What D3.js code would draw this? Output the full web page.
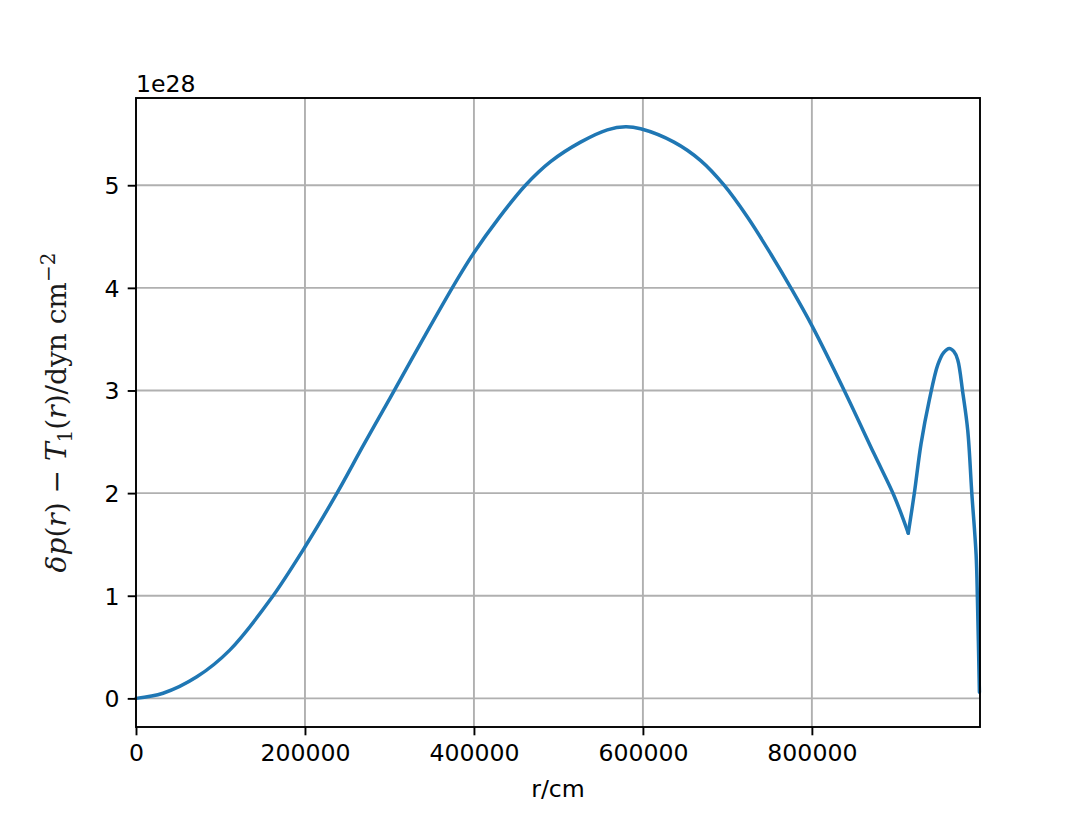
<!DOCTYPE html>
<meta charset="utf-8">

<!-- Load d3.js -->
<script src="https://d3js.org/d3.v7.min.js"></script>

<body>
  <div id="my_dataviz"></div>
</body>

<style>
body {
  margin: 0;
  padding: 0;
  background: white;
}
.tick text {
  font-family: 'DejaVu Sans', sans-serif;
  font-size: 23.6px;
  fill: black;
}
</style>

<script>

// radius in cm, value in units of 1e28 dyn cm^-2
// inner part, up to the kink
var rInner = [0, 32000, 72000, 111000, 158800, 200300, 237900, 269400, 301000,
  341000, 380100, 399800, 429400, 461000, 490700, 526200, 557900, 579600,
  597300, 636800, 668400, 696100, 723700, 751400, 775100, 800800, 838300,
  873800, 897500, 914100];
var vInner = [0, 0.05, 0.21, 0.47, 0.96, 1.48, 2.0, 2.47, 2.93,
  3.52, 4.08, 4.34, 4.68, 5.0, 5.23, 5.42, 5.54, 5.57,
  5.55, 5.42, 5.24, 5.0, 4.69, 4.33, 4.0, 3.62, 3.0,
  2.38, 1.97, 1.61];

// outer part, from the kink to the surface
var rOuter = [914100, 921300, 929200, 939100, 949000, 956000, 962700, 968000,
  972600, 978600, 984500, 989300, 994400, 996000, 998300];
var vOuter = [1.61, 2.0, 2.48, 2.91, 3.25, 3.37, 3.41, 3.38,
  3.30, 2.98, 2.61, 2.0, 1.4, 0.95, 0.06];

var xTicks = [0, 200000, 400000, 600000, 800000];
var yTicks = [0, 1, 2, 3, 4, 5];

// set the dimensions and margins of the graph
var margin = {top: 98, right: 109, bottom: 90, left: 136},
    width = 1089 - margin.left - margin.right,
    height = 817 - margin.top - margin.bottom;

var tickLen = 8.3, tickPad = 8.3;

var svg = d3.select("#my_dataviz")
  .append("svg")
    .attr("width", 1089)
    .attr("height", 817)
  .append("g")
    .attr("transform", "translate(" + margin.left + "," + margin.top + ")");

var x = d3.scaleLinear()
  .domain([0, 999000])
  .range([0, width]);

var y = d3.scaleLinear()
  .domain([-0.279, 5.85])
  .range([height, 0]);

// grid lines
svg.append("g")
  .selectAll("line")
  .data(xTicks)
  .enter()
  .append("line")
    .attr("x1", function(d) { return x(d); })
    .attr("x2", function(d) { return x(d); })
    .attr("y1", 0)
    .attr("y2", height)
    .attr("stroke", "#b0b0b0")
    .attr("stroke-width", 1.9);

svg.append("g")
  .selectAll("line")
  .data(yTicks)
  .enter()
  .append("line")
    .attr("x1", 0)
    .attr("x2", width)
    .attr("y1", function(d) { return y(d); })
    .attr("y2", function(d) { return y(d); })
    .attr("stroke", "#b0b0b0")
    .attr("stroke-width", 1.9);

// the curve, drawn in two pieces so the kink stays sharp
var line = d3.line()
  .x(function(d) { return x(d[0]); })
  .y(function(d) { return y(d[1]); })
  .curve(d3.curveCatmullRom.alpha(0.5));

[[rInner, vInner], [rOuter, vOuter]].forEach(function(part) {
  var pts = part[0].map(function(r, i) { return [r, part[1][i]]; });
  svg.append("path")
    .datum(pts)
    .attr("d", line)
    .attr("fill", "none")
    .attr("stroke", "#1f77b4")
    .attr("stroke-width", 3.5)
    .attr("stroke-linecap", "round")
    .attr("stroke-linejoin", "round");
});

// axes
var xAxis = svg.append("g")
  .attr("transform", "translate(0," + height + ")")
  .call(d3.axisBottom(x).tickValues(xTicks).tickSize(tickLen).tickPadding(tickPad).tickFormat(d3.format("d")));

var yAxis = svg.append("g")
  .call(d3.axisLeft(y).tickValues(yTicks).tickSize(tickLen).tickPadding(tickPad).tickFormat(d3.format("d")));

[xAxis, yAxis].forEach(function(a) {
  a.select(".domain").remove();
  a.selectAll(".tick line").attr("stroke", "black").attr("stroke-width", 1.9);
});
xAxis.selectAll(".tick text").attr("dy", "0.74em");
yAxis.selectAll(".tick text").attr("dy", "0.36em");

// frame
svg.append("rect")
  .attr("x", 0)
  .attr("y", 0)
  .attr("width", width)
  .attr("height", height)
  .attr("fill", "none")
  .attr("stroke", "black")
  .attr("stroke-width", 1.9);

// offset text
svg.append("text")
  .attr("x", 0)
  .attr("y", -6)
  .style("font-family", "'DejaVu Sans', sans-serif")
  .style("font-size", "23.6px")
  .text("1e28");

// x label
svg.append("text")
  .attr("x", width / 2)
  .attr("y", height + 70)
  .attr("text-anchor", "middle")
  .style("font-family", "'DejaVu Sans', sans-serif")
  .style("font-size", "23.6px")
  .text("r/cm");

// y label (math style)
var yl = svg.append("text")
  .attr("transform", "translate(-70," + (height / 2) + ") rotate(-90)")
  .attr("text-anchor", "middle")
  .style("font-family", "'DejaVu Serif', serif")
  .style("font-size", "28px")
  .style("fill", "#1a1a1a");

var parts = [
  ["δp", "italic"], ["(", "normal"], ["r", "italic"], [") − ", "normal"],
  ["T", "italic"]
];
parts.forEach(function(p) {
  yl.append("tspan").style("font-style", p[1]).text(p[0]);
});
yl.append("tspan").attr("dy", 6).style("font-size", "20px").text("1");
yl.append("tspan").attr("dy", -6).text("(");
yl.append("tspan").style("font-style", "italic").text("r");
yl.append("tspan").text(")/dyn cm");
yl.append("tspan").attr("dy", -11).style("font-size", "20px").text("−2");

</script>
